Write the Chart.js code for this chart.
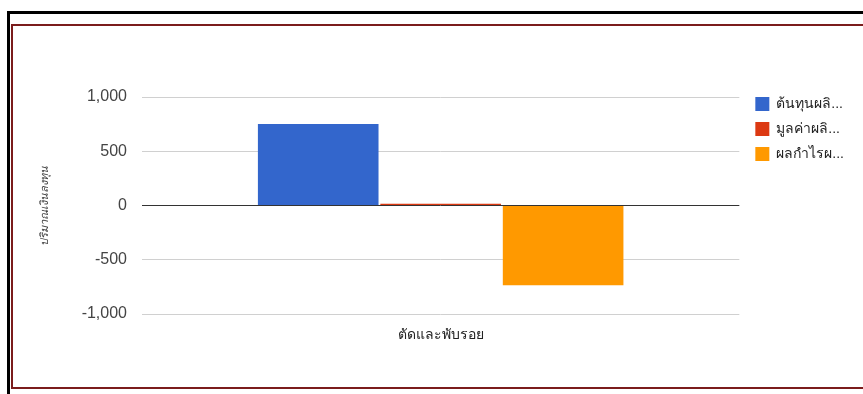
<!DOCTYPE html>
<html lang="th">
<head>
    <meta charset="UTF-8">
    <title>ต้นทุนและผลกำไร</title>
    <style>
        body {
            margin: 0;
            background: #ffffff;
            overflow: hidden;
            width: 863px;
            height: 394px;
            position: relative;
            font-family: Arial, 'Liberation Sans', sans-serif;
        }
        .outer {
            position: absolute;
            left: 7px;
            top: 11px;
            width: 900px;
            height: 420px;
            border-left: 3px solid #000;
            border-top: 3px solid #000;
        }
        .inner {
            position: absolute;
            left: 11px;
            top: 24px;
            width: 900px;
            height: 361px;
            border: 2px solid #7b1c1c;
        }
        #chart {
            position: absolute;
            left: 0;
            top: 0;
        }
    </style>
</head>
<body>
    <div class="outer"></div>
    <div class="inner"></div>
    <canvas id="chart" width="863" height="394"></canvas>

    <script src="https://cdn.jsdelivr.net/npm/chart.js"></script>
    <script>
        // ข้อมูลกราฟ
        const categories = ['ตัดและพับรอย'];
        const seriesNames = ['ต้นทุนผลิ...', 'มูลค่าผลิ...', 'ผลกำไรผ...'];
        const costValues = [752];
        const valueValues = [15];
        const profitValues = [-735];
        const seriesColors = ['#3366cc', '#dc3912', '#ff9900'];
        const yTicks = [-1000, -500, 0, 500, 1000];
        const yTitle = 'ปริมาณเงินลงทุน';

        // ขยับ legend ให้ตรงกับกรอบกราฟด้านบน
        const legendOffset = {
            id: 'legendOffset',
            afterLayout(chart) {
                const lg = chart.legend;
                lg.left += 5;
                lg.right += 5;
                lg.top = chart.chartArea.top - lg.options.labels.padding;
            }
        };

        const ctx = document.getElementById('chart').getContext('2d');

        new Chart(ctx, {
            type: 'bar',
            data: {
                labels: categories,
                datasets: [
                    { label: seriesNames[0], data: costValues, backgroundColor: seriesColors[0] },
                    { label: seriesNames[1], data: valueValues, backgroundColor: seriesColors[1] },
                    { label: seriesNames[2], data: profitValues, backgroundColor: seriesColors[2] }
                ]
            },
            options: {
                responsive: false,
                animation: false,
                layout: {
                    padding: { top: 97, right: 14, bottom: 35, left: 0 }
                },
                datasets: {
                    bar: {
                        categoryPercentage: 0.615,
                        barPercentage: 0.985
                    }
                },
                scales: {
                    x: {
                        grid: { display: false },
                        border: { display: false },
                        ticks: {
                            color: '#222',
                            padding: 5,
                            font: { size: 14, family: 'Arial' }
                        },
                        afterFit(scale) {
                            scale.height = 45;
                        }
                    },
                    y: {
                        min: -1000,
                        max: 1000,
                        afterBuildTicks(scale) {
                            scale.ticks = yTicks.map(v => ({ value: v }));
                        },
                        border: { display: false },
                        grid: {
                            drawTicks: false,
                            color: c => (c.tick && c.tick.value === 0) ? '#333333' : '#d0d0d0'
                        },
                        ticks: {
                            color: '#444',
                            padding: 15,
                            font: { size: 16, family: 'Arial' },
                            callback: v => Number(v).toLocaleString('en-US')
                        },
                        title: {
                            display: true,
                            text: yTitle,
                            color: '#444',
                            padding: { top: 38, bottom: 0 },
                            font: { size: 11, style: 'italic' }
                        },
                        afterFit(scale) {
                            scale.width = 142;
                        }
                    }
                },
                plugins: {
                    legend: {
                        position: 'right',
                        align: 'start',
                        labels: {
                            boxWidth: 14,
                            boxHeight: 14,
                            padding: 11,
                            color: '#222',
                            font: { size: 14 }
                        }
                    },
                    tooltip: { enabled: false }
                }
            },
            plugins: [legendOffset]
        });
    </script>
</body>
</html>
